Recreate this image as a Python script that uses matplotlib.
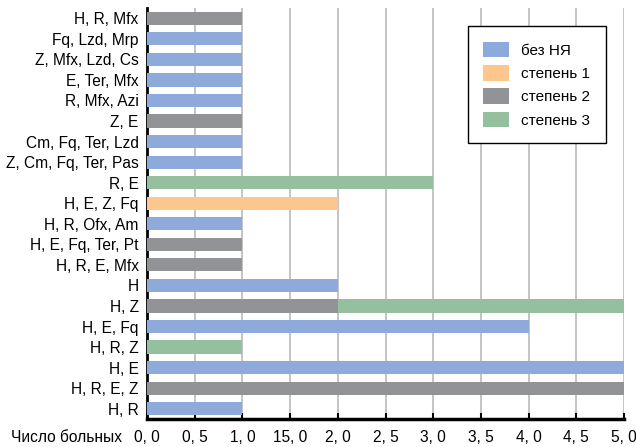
import numpy as np
import matplotlib.pyplot as plt

plt.rcParams['font.family'] = ['Liberation Sans', 'DejaVu Sans']

# категории снизу вверх
categories = ['H, R', 'H, R, E, Z', 'H, E', 'H, R, Z', 'H, E, Fq', 'H, Z', 'H',
              'H, R, E, Mfx', 'H, E, Fq, Ter, Pt', 'H, R, Ofx, Am', 'H, E, Z, Fq',
              'R, E', 'Z, Cm, Fq, Ter, Pas', 'Cm, Fq, Ter, Lzd', 'Z, E',
              'R, Mfx, Azi', 'E, Ter, Mfx', 'Z, Mfx, Lzd, Cs', 'Fq, Lzd, Mrp',
              'H, R, Mfx']
no_ae = [1, 0, 5, 0, 4, 0, 2, 0, 0, 1, 0, 0, 1, 1, 0, 1, 1, 1, 1, 0]
grade1 = [0, 0, 0, 0, 0, 0, 0, 0, 0, 0, 2, 0, 0, 0, 0, 0, 0, 0, 0, 0]
grade2 = [0, 5, 0, 0, 0, 2, 0, 1, 1, 0, 0, 0, 0, 0, 1, 0, 0, 0, 0, 1]
grade3 = [0, 0, 0, 1, 0, 3, 0, 0, 0, 0, 0, 3, 0, 0, 0, 0, 0, 0, 0, 0]
series = [no_ae, grade1, grade2, grade3]
series_names = ['без НЯ', 'степень 1', 'степень 2', 'степень 3']
colors = ['#8eaadb', '#fdc68c', '#929397', '#94c0a0']

xticks = np.arange(0, 5.01, 0.5)
xtick_labels = ['0, 0', '0, 5', '1, 0', '15, 0', '2, 0', '2, 5', '3, 0',
                '3, 5', '4, 0', '4, 5', '5, 0']

fig = plt.figure(figsize=(6.36, 4.47), dpi=100)
ax = fig.add_axes([147 / 636, 28 / 447, 477 / 636, 411 / 447])

y = np.arange(len(categories))
left = np.zeros(len(categories))
for vals, name, c in zip(series, series_names, colors):
    ax.barh(y, vals, left=left, height=0.64, color=c, label=name, zorder=3)
    left += np.array(vals)

ax.set_xlim(0, 5)
ax.set_ylim(-0.5, len(categories) - 0.5)
ax.set_yticks(y)
ax.set_yticklabels(categories, fontsize=11.2)
ax.set_xticks(xticks)
ax.set_xticklabels(xtick_labels, fontsize=11.2)
ax.tick_params(axis='y', length=0, pad=6)
ax.tick_params(axis='x', direction='in', length=4, width=1.5, pad=8)
ax.xaxis.grid(True, color='#c4c4c4', linewidth=1.4, zorder=0)
ax.set_axisbelow(True)

for s in ['top', 'right']:
    ax.spines[s].set_visible(False)
ax.spines['left'].set_linewidth(2)
ax.spines['bottom'].set_linewidth(2.5)

ax.text(-0.052, -0.044, 'Число больных', transform=ax.transAxes,
        ha='right', va='center', fontsize=11.2)

leg = ax.legend(loc='upper left', bbox_to_anchor=(0.673, 0.955), fontsize=11,
                fancybox=False, framealpha=1, edgecolor='black',
                borderpad=1.0, labelspacing=0.48, handlelength=1.7,
                handleheight=1.2, handletextpad=0.8, borderaxespad=0)
leg.get_frame().set_linewidth(1)

fig.savefig('out.png', dpi=100)
